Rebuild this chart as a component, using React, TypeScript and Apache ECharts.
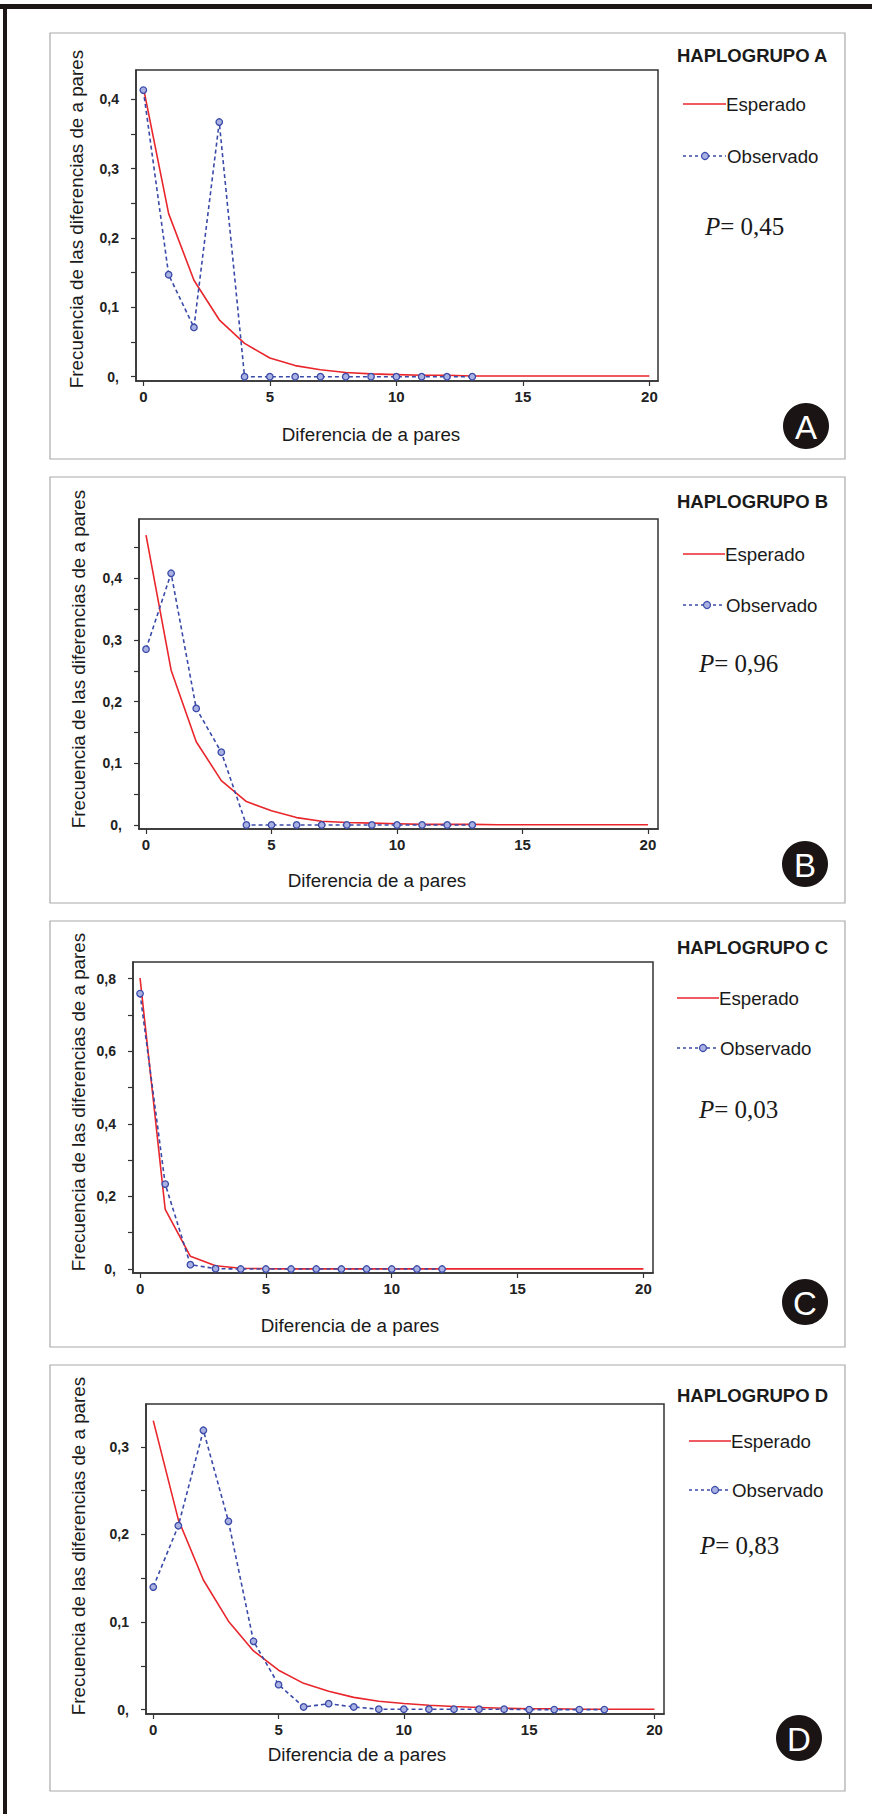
import React, { useEffect, useRef } from "react";
import * as echarts from "echarts";

// ---- data ----
const diffs = [0, 1, 2, 3, 4, 5, 6, 7, 8, 9, 10, 11, 12, 13, 14, 15, 16, 17, 18, 19, 20];

const expectedA = [0.417, 0.235, 0.139, 0.082, 0.048, 0.027, 0.016, 0.01, 0.006, 0.004, 0.003, 0.002, 0.002, 0.001, 0.001, 0.001, 0.001, 0.001, 0.001, 0.001, 0.001];
const observedA = [0.413, 0.147, 0.071, 0.367, 0, 0, 0, 0, 0, 0, 0, 0, 0, 0];

const expectedB = [0.47, 0.251, 0.135, 0.072, 0.038, 0.023, 0.012, 0.006, 0.004, 0.003, 0.002, 0.001, 0.001, 0.001, 0.0005, 0.0005, 0.0005, 0.0005, 0.0005, 0.0005, 0.0005];
const observedB = [0.285, 0.408, 0.189, 0.118, 0, 0, 0, 0, 0, 0, 0, 0, 0, 0];

const expectedC = [0.802, 0.164, 0.035, 0.009, 0.002, 0.001, 0.0005, 0.0005, 0.0005, 0.0005, 0.0005, 0.0005, 0.0005, 0.0005, 0.0005, 0.0005, 0.0005, 0.0005, 0.0005, 0.0005, 0.0005];
const observedC = [0.759, 0.234, 0.012, 0.001, 0, 0, 0, 0, 0, 0, 0, 0, 0];

const expectedD = [0.33, 0.217, 0.148, 0.101, 0.067, 0.045, 0.03, 0.021, 0.014, 0.0095, 0.007, 0.005, 0.0035, 0.0025, 0.0015, 0.001, 0.001, 0.0005, 0.0005, 0.0005, 0.0005];
const observedD = [0.14, 0.21, 0.319, 0.215, 0.078, 0.0285, 0.003, 0.0068, 0.003, 0.0005, 0.0005, 0.0005, 0.0005, 0.0005, 0.0005, 0, 0, 0, 0];

const xTickValues = [0, 5, 10, 15, 20];
const yLabelsA = [0, 0.1, 0.2, 0.3, 0.4];
const yTicksA = [0, 0.05, 0.1, 0.15, 0.2, 0.25, 0.3, 0.35, 0.4];
const yLabelsB = [0, 0.1, 0.2, 0.3, 0.4];
const yTicksB = [0, 0.05, 0.1, 0.15, 0.2, 0.25, 0.3, 0.35, 0.4, 0.45];
const yLabelsC = [0, 0.2, 0.4, 0.6, 0.8];
const yTicksC = [0, 0.1, 0.2, 0.3, 0.4, 0.5, 0.6, 0.7, 0.8];
const yLabelsD = [0, 0.1, 0.2, 0.3];
const yTicksD = [0, 0.05, 0.1, 0.15, 0.2, 0.25, 0.3];

const titles = ["HAPLOGRUPO A", "HAPLOGRUPO B", "HAPLOGRUPO C", "HAPLOGRUPO D"];
const pValues = ["0,45", "0,96", "0,03", "0,83"];
const badges = ["A", "B", "C", "D"];
const legendNames = ["Esperado", "Observado"];
const xName = "Diferencia de a pares";
const yName = "Frecuencia de las diferencias de a pares";

// ---- layout ----
const panels = [
  {
    expected: expectedA, observed: observedA, yLabels: yLabelsA, yTicks: yTicksA,
    grid: { left: 136, top: 70, width: 522, height: 311 },
    xMin: -0.29, xMax: 20.34, yMin: -0.0062, yMax: 0.442,
    box: [33, 459], headY: 55, espY: 104, obsY: 156, pY: 226, pX: 705,
    legX1: 683, legX2: 726, circX: 705, badge: [806, 426],
    yNameX: 76, yNameY: 219, xNameX: 371, xNameY: 434,
  },
  {
    expected: expectedB, observed: observedB, yLabels: yLabelsB, yTicks: yTicksB,
    grid: { left: 139, top: 519, width: 519, height: 310 },
    xMin: -0.28, xMax: 20.4, yMin: -0.0065, yMax: 0.496,
    box: [477, 903], headY: 501, espY: 554, obsY: 605, pY: 663, pX: 699,
    legX1: 683, legX2: 725, circX: 707, badge: [805, 864],
    yNameX: 78, yNameY: 659, xNameX: 377, xNameY: 880,
  },
  {
    expected: expectedC, observed: observedC, yLabels: yLabelsC, yTicks: yTicksC,
    grid: { left: 133, top: 962, width: 520, height: 311 },
    xMin: -0.28, xMax: 20.38, yMin: -0.011, yMax: 0.846,
    box: [921, 1347], headY: 947, espY: 998, obsY: 1048, pY: 1109, pX: 699,
    legX1: 677, legX2: 719, circX: 703, badge: [805, 1302],
    yNameX: 78, yNameY: 1102, xNameX: 350, xNameY: 1325,
  },
  {
    expected: expectedD, observed: observedD, yLabels: yLabelsD, yTicks: yTicksD,
    grid: { left: 146, top: 1404, width: 518, height: 310 },
    xMin: -0.29, xMax: 20.38, yMin: -0.005, yMax: 0.349,
    box: [1365, 1791], headY: 1395, espY: 1441, obsY: 1490, pY: 1545, pX: 700,
    legX1: 689, legX2: 731, circX: 715, badge: [799, 1738],
    yNameX: 78, yNameY: 1546, xNameX: 357, xNameY: 1754,
  },
];

const RED = "#e8262c";
const BLUE = "#3a4aa8";
const MARKER_FILL = "#a9b0e2";
const AXIS = "#333333";
const SANS = "'Liberation Sans', Arial, sans-serif";
const SERIF = "'Liberation Serif', 'Times New Roman', serif";

function yFmt(v: number) {
  if (v === 0) return "0,";
  return v.toFixed(1).replace(".", ",");
}

export default function App() {
  const ref = useRef<HTMLDivElement>(null);

  useEffect(() => {
    if (!ref.current) return;
    const chart = echarts.init(ref.current, undefined, { renderer: "svg" });

    const grids = panels.map((p) => ({
      ...p.grid,
      show: true,
      borderColor: AXIS,
      borderWidth: 1.5,
      backgroundColor: "#ffffff",
    }));

    const xAxes = panels.map((p, i) => ({
      type: "value",
      gridIndex: i,
      min: p.xMin,
      max: p.xMax,
      axisLine: { show: true, onZero: false, lineStyle: { color: AXIS, width: 1.5 } },
      axisTick: { show: true, inside: false, length: 5, customValues: xTickValues, lineStyle: { color: AXIS, width: 1.2 } },
      axisLabel: {
        show: true, customValues: xTickValues, margin: 8,
        fontFamily: SANS, fontWeight: "bold", fontSize: 15, color: "#222",
      },
      splitLine: { show: false },
    }));

    const yAxes = panels.map((p, i) => ({
      type: "value",
      gridIndex: i,
      min: p.yMin,
      max: p.yMax,
      axisLine: { show: true, onZero: false, lineStyle: { color: AXIS, width: 1.5 } },
      axisTick: { show: true, inside: false, length: 5, customValues: p.yTicks, lineStyle: { color: AXIS, width: 1.2 } },
      axisLabel: {
        show: true, customValues: p.yLabels, margin: 17,
        fontFamily: SANS, fontWeight: "bold", fontSize: 14, color: "#222",
        formatter: (v: number) => yFmt(v),
      },
      splitLine: { show: false },
    }));

    const series: any[] = [];
    panels.forEach((p, i) => {
      series.push({
        type: "line",
        name: legendNames[0],
        xAxisIndex: i,
        yAxisIndex: i,
        data: p.expected.map((v, k) => [diffs[k], v]),
        showSymbol: false,
        symbol: "none",
        lineStyle: { color: RED, width: 1.6 },
        z: 2,
      });
      series.push({
        type: "line",
        name: legendNames[1],
        xAxisIndex: i,
        yAxisIndex: i,
        data: p.observed.map((v, k) => [diffs[k], v]),
        symbol: "circle",
        symbolSize: 6.5,
        showSymbol: true,
        lineStyle: { color: BLUE, width: 1.6, type: [4, 3] },
        itemStyle: { color: MARKER_FILL, borderColor: BLUE, borderWidth: 1.3 },
        z: 3,
      });
    });

    const graphic: any[] = [];
    // outer frame
    graphic.push({ type: "rect", shape: { x: 0, y: 4, width: 872, height: 5 }, style: { fill: "#1c1616" }, z: 10 });
    graphic.push({ type: "rect", shape: { x: 3, y: 4, width: 4, height: 1810 }, style: { fill: "#1c1616" }, z: 10 });

    panels.forEach((p, i) => {
      graphic.push({
        type: "rect",
        shape: { x: 50, y: p.box[0], width: 795, height: p.box[1] - p.box[0] },
        style: { fill: "none", stroke: "#aaaaaa", lineWidth: 1.2 },
        z: -1,
      });
      graphic.push({
        type: "text", x: 677, y: p.headY,
        style: { text: titles[i], font: `bold 18.5px ${SANS}`, fill: "#1a1a1a", align: "left", verticalAlign: "middle" },
      });
      // Esperado legend
      graphic.push({
        type: "line", shape: { x1: p.legX1, y1: p.espY, x2: p.legX2, y2: p.espY },
        style: { stroke: RED, lineWidth: 1.6 },
      });
      graphic.push({
        type: "text", x: p.legX2, y: p.espY,
        style: { text: legendNames[0], font: `18.7px ${SANS}`, fill: "#1a1a1a", align: "left", verticalAlign: "middle" },
      });
      // Observado legend
      graphic.push({
        type: "line", shape: { x1: p.legX1, y1: p.obsY, x2: p.legX2, y2: p.obsY },
        style: { stroke: BLUE, lineWidth: 1.4, lineDash: [3, 3] },
      });
      graphic.push({
        type: "circle", shape: { cx: p.circX, cy: p.obsY, r: 3.5 },
        style: { fill: MARKER_FILL, stroke: BLUE, lineWidth: 1.2 },
      });
      graphic.push({
        type: "text", x: p.legX2 + 1, y: p.obsY,
        style: { text: legendNames[1], font: `18.7px ${SANS}`, fill: "#1a1a1a", align: "left", verticalAlign: "middle" },
      });
      // P value
      graphic.push({
        type: "text", x: p.pX, y: p.pY,
        style: {
          text: `{i|P}{n|= ${pValues[i]}}`,
          align: "left", verticalAlign: "middle",
          rich: {
            i: { fontFamily: SERIF, fontStyle: "italic", fontSize: 25, fill: "#1a1a1a", color: "#1a1a1a" },
            n: { fontFamily: SERIF, fontSize: 25, fill: "#1a1a1a", color: "#1a1a1a" },
          },
        },
      });
      // badge
      graphic.push({
        type: "circle", shape: { cx: p.badge[0], cy: p.badge[1], r: 23 },
        style: { fill: "#1a1414" },
      });
      graphic.push({
        type: "text", x: p.badge[0], y: p.badge[1] + 1,
        style: { text: badges[i], font: `33px ${SANS}`, fill: "#ffffff", align: "center", verticalAlign: "middle" },
      });
      // axis names
      graphic.push({
        type: "text", x: p.yNameX, y: p.yNameY, rotation: Math.PI / 2,
        style: { text: yName, font: `18.8px ${SANS}`, fill: "#1a1a1a", align: "center", verticalAlign: "middle" },
      });
      graphic.push({
        type: "text", x: p.xNameX, y: p.xNameY,
        style: { text: xName, font: `18.8px ${SANS}`, fill: "#1a1a1a", align: "center", verticalAlign: "middle" },
      });
    });

    chart.setOption({
      animation: false,
      backgroundColor: "#ffffff",
      grid: grids,
      xAxis: xAxes,
      yAxis: yAxes,
      series,
      graphic,
    });

    return () => chart.dispose();
  }, []);

  return (
    <div
      ref={ref}
      style={{ position: "absolute", left: 0, top: 0, width: 872, height: 1814, background: "#fff" }}
    />
  );
}
